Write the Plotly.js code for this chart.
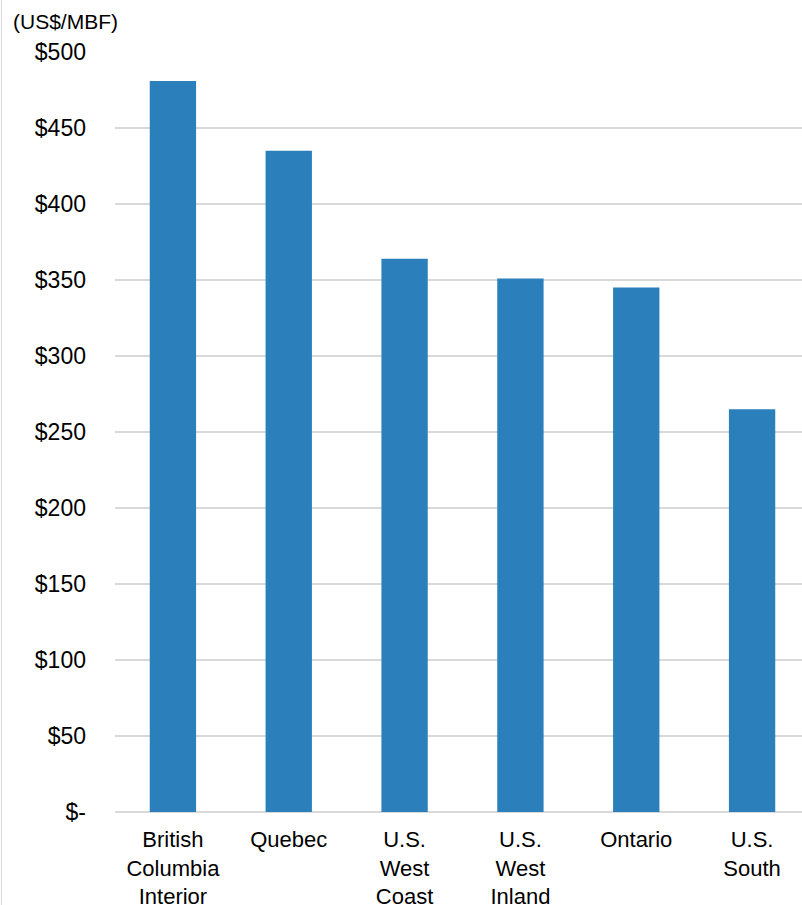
<!DOCTYPE html>
<html>
<head>
<meta charset="utf-8">
<script src="https://cdn.plot.ly/plotly-3.0.1.min.js"></script>
<style>
html, body { margin: 0; padding: 0; overflow: hidden; background: #fff; }
#chart { width: 810px; height: 905px; }
#border { position: absolute; left: 1px; top: 0; width: 1px; height: 905px; background: #d9d9d9; }
</style>
</head>
<body>
<div id="chart"></div>
<div id="border"></div>
<script>
const categories = ["British<br>Columbia<br>Interior", "Quebec", "U.S.<br>West<br>Coast", "U.S.<br>West<br>Inland", "Ontario", "U.S.<br>South"];
const values = [481, 435, 364, 351, 345, 265];
const yTickVals = [0, 50, 100, 150, 200, 250, 300, 350, 400, 450, 500];
const yTickText = ["$-", "$50", "$100", "$150", "$200", "$250", "$300", "$350", "$400", "$450", "$500"];

const fam = "Liberation Sans, Arial, sans-serif";

Plotly.newPlot("chart", [{
  type: "bar",
  x: categories,
  y: values,
  marker: { color: "#2b7fba" },
  hoverinfo: "x+y"
}], {
  width: 810,
  height: 905,
  margin: { l: 115, r: 0, t: 52, b: 93 },
  paper_bgcolor: "#ffffff",
  plot_bgcolor: "#ffffff",
  font: { family: fam, size: 21, color: "#000000" },
  bargap: 0.6,
  showlegend: false,
  title: {
    text: "(US$/MBF)",
    font: { family: fam, size: 21, color: "#000000" },
    x: 13 / 810,
    xanchor: "left",
    xref: "container",
    y: 1 - 22 / 905,
    yanchor: "middle",
    yref: "container"
  },
  xaxis: {
    type: "category",
    showgrid: false,
    showline: false,
    zeroline: false,
    ticks: "",
    tickfont: { family: fam, size: 22, color: "#000000" },
    ticklabelstandoff: 12
  },
  yaxis: {
    range: [0, 500],
    tickvals: yTickVals,
    ticktext: yTickText,
    showgrid: true,
    gridcolor: "#d9d9d9",
    gridwidth: 1.5,
    zeroline: true,
    zerolinecolor: "#d9d9d9",
    zerolinewidth: 2,
    showline: false,
    ticks: "",
    tickfont: { family: fam, size: 23, color: "#000000" },
    ticklabelstandoff: 28
  }
}, { displayModeBar: false, staticPlot: true });
</script>
</body>
</html>
